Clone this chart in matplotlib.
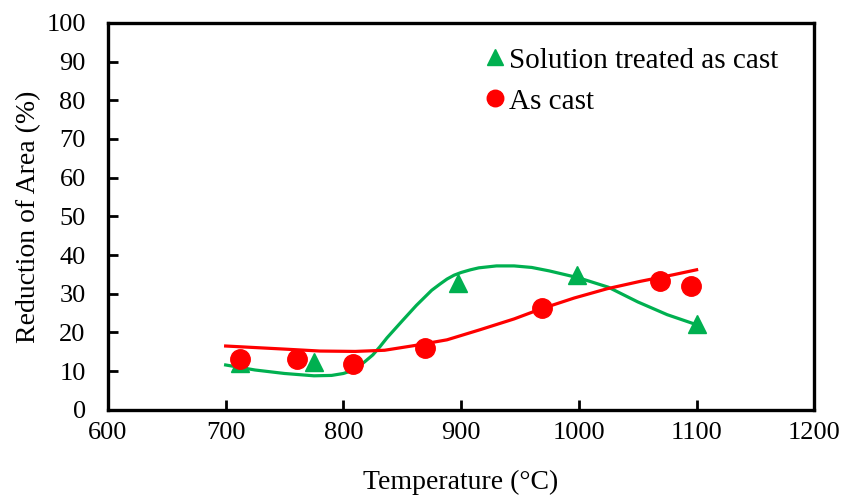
import matplotlib.pyplot as plt

plt.rcParams['font.family'] = ['Liberation Serif', 'DejaVu Serif']

# tensile test results: reduction of area vs. test temperature
temp_solution = [712, 775, 897, 998, 1100]
ra_solution = [12.0, 12.4, 32.8, 34.8, 22.2]

temp_cast = [712, 761, 808, 869, 969, 1069, 1095]
ra_cast = [13.1, 13.1, 11.9, 16.1, 26.4, 33.2, 31.9]

# hand-drawn trend curves through each series
trend_sol_temp = [700, 725, 750, 775, 790, 800, 806, 812, 818, 825, 831, 837, 850,
                  862, 875, 882, 888, 894, 900, 908, 915, 930, 945, 960, 975,
                  1000, 1025, 1050, 1075, 1100]
trend_sol_ra = [11.6, 10.3, 9.4, 8.8, 8.9, 9.4, 10.0, 11.0, 12.4, 14.2, 16.3, 18.6, 23.0,
                27.0, 30.9, 32.5, 33.8, 34.8, 35.5, 36.2, 36.7, 37.2, 37.2, 36.8, 35.9,
                34.1, 31.7, 27.9, 24.6, 22.0]

trend_cast_temp = [700, 725, 750, 780, 810, 835, 860, 888, 916, 945, 967,
                   996, 1024, 1052, 1080, 1100]
trend_cast_ra = [16.5, 16.1, 15.7, 15.2, 15.1, 15.4, 16.6, 18.1, 20.7, 23.5, 26.0,
                 28.9, 31.3, 33.2, 34.9, 36.2]

green = '#00B050'
red = '#FF0000'

fig = plt.figure(figsize=(8.43, 4.98), dpi=100)
ax = fig.add_axes([0.128, 0.177, 0.838, 0.777])

ax.plot(trend_sol_temp, trend_sol_ra, color=green, lw=2.3, zorder=2,
        solid_joinstyle='round')
ax.plot(trend_cast_temp, trend_cast_ra, color=red, lw=2.3, zorder=2,
        solid_joinstyle='round')

ax.plot(temp_solution, ra_solution, ls='none', marker='^', ms=13, color=green,
        mec=green, label='Solution treated as cast', zorder=3)
ax.plot(temp_cast, ra_cast, ls='none', marker='o', ms=14, color=red,
        mec=red, label='As cast', zorder=4)

ax.set_xlim(600, 1200)
ax.set_ylim(0, 100)
ax.set_xticks(range(600, 1201, 100))
ax.set_yticks(range(0, 101, 10))
ax.tick_params(direction='in', length=7, width=2, labelsize=19)
ax.tick_params(axis='x', pad=9)
ax.tick_params(axis='y', pad=16)
for side in ['left', 'bottom', 'right', 'top']:
    ax.spines[side].set_linewidth(2.4)

ax.set_xlabel('Temperature (°C)', fontsize=20, labelpad=18)
ax.set_ylabel('Reduction of Area (%)', fontsize=20, labelpad=4)

ax.legend(loc='upper left', bbox_to_anchor=(0.498, 1.005), frameon=False,
          fontsize=21, handlelength=0.6, handletextpad=0.2, labelspacing=0.5,
          markerscale=0.85)

fig.savefig('out.png', dpi=100)
